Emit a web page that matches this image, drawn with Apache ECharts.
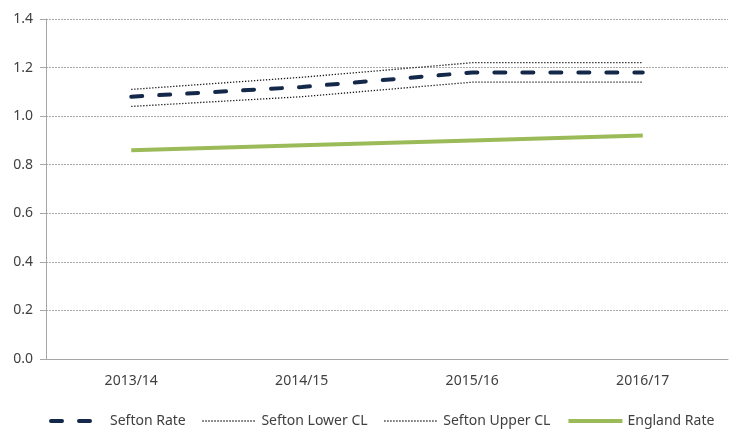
<!DOCTYPE html>
<html>
<head>
<meta charset="utf-8">
<script src="https://cdn.jsdelivr.net/npm/echarts@6/dist/echarts.min.js"></script>
<style>
  html, body { margin: 0; padding: 0; background: #fff; }
  #chart { width: 737px; height: 430px; }
</style>
</head>
<body>
<div id="chart"></div>
<script>
// years on the x axis
const years = ['2013/14', '2014/15', '2015/16', '2016/17'];
// rates
const seftonRate = [1.08, 1.12, 1.18, 1.18];
const seftonLower = [1.04, 1.08, 1.14, 1.14];
const seftonUpper = [1.11, 1.16, 1.22, 1.22];
const englandRate = [0.86, 0.88, 0.90, 0.92];

const font = 'Noto Sans';
const chart = echarts.init(document.getElementById('chart'));

const option = {
    animation: false,
    grid: { left: 46, right: 9, top: 19, bottom: 71 },
    legend: {
        top: 409,
        left: 44,
        itemWidth: 54,
        itemHeight: 10,
        itemGap: 16,
        itemStyle: { opacity: 0 },
        textStyle: { fontFamily: font, fontSize: 14, color: '#404040' },
        data: [
            { name: 'Sefton Rate', lineStyle: { width: 4 } },
            { name: 'Sefton Lower CL', lineStyle: { width: 1.3 } },
            { name: 'Sefton Upper CL', lineStyle: { width: 1.3 } },
            { name: 'England Rate', lineStyle: { width: 4 } }
        ]
    },
    xAxis: {
        type: 'category',
        data: years,
        boundaryGap: true,
        axisLine: { lineStyle: { color: '#a6a6a6' } },
        axisTick: { length: 6, lineStyle: { color: '#a6a6a6' } },
        axisLabel: { margin: 15, fontFamily: font, fontSize: 14, color: '#404040' }
    },
    yAxis: {
        type: 'value',
        min: 0,
        max: 1.4,
        interval: 0.2,
        axisLine: { show: true, lineStyle: { color: '#a6a6a6' } },
        axisTick: { show: true, length: 6, lineStyle: { color: '#a6a6a6' } },
        axisLabel: {
            margin: 13,
            fontFamily: font, fontSize: 14, color: '#404040',
            formatter: v => v.toFixed(1)
        },
        splitLine: { lineStyle: { color: '#a8a8a8', type: [2, 1], width: 1 } }
    },
    series: [
        {
            name: 'Sefton Rate',
            type: 'line',
            data: seftonRate,
            symbol: 'none',
            z: 4,
            lineStyle: { color: '#14284a', width: 4, type: [11, 17], cap: 'round' },
            itemStyle: { color: '#14284a' }
        },
        {
            name: 'Sefton Lower CL',
            type: 'line',
            data: seftonLower,
            symbol: 'none',
            lineStyle: { color: '#1a1a1a', width: 1.3, type: [1.3, 1.7] },
            itemStyle: { color: '#1a1a1a' }
        },
        {
            name: 'Sefton Upper CL',
            type: 'line',
            data: seftonUpper,
            symbol: 'none',
            lineStyle: { color: '#1a1a1a', width: 1.3, type: [1.3, 1.7] },
            itemStyle: { color: '#1a1a1a' }
        },
        {
            name: 'England Rate',
            type: 'line',
            data: englandRate,
            symbol: 'none',
            lineStyle: { color: '#9bbb59', width: 4 },
            itemStyle: { color: '#9bbb59' }
        }
    ]
};
chart.setOption(option);
</script>
</body>
</html>
